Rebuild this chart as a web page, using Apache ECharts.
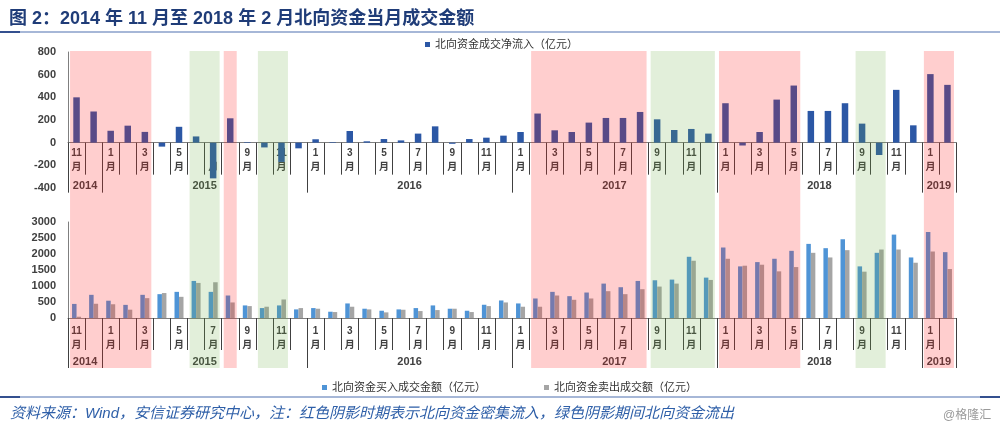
<!DOCTYPE html>
<html><head><meta charset="utf-8">
<script src="https://cdn.jsdelivr.net/npm/echarts@6/dist/echarts.min.js"></script>
<style>html,body{margin:0;padding:0;background:#fff}#c{width:1000px;height:429px}</style>
</head><body><div id="c"></div>
<script>
const months = ['2014-11','2014-12',
 '2015-01','2015-02','2015-03','2015-04','2015-05','2015-06','2015-07','2015-08','2015-09','2015-10','2015-11','2015-12',
 '2016-01','2016-02','2016-03','2016-04','2016-05','2016-06','2016-07','2016-08','2016-09','2016-10','2016-11','2016-12',
 '2017-01','2017-02','2017-03','2017-04','2017-05','2017-06','2017-07','2017-08','2017-09','2017-10','2017-11','2017-12',
 '2018-01','2018-02','2018-03','2018-04','2018-05','2018-06','2018-07','2018-08','2018-09','2018-10','2018-11','2018-12',
 '2019-01','2019-02'];
const netFlow = [400,275,105,150,95,-35,140,55,-315,215,5,-42,-170,-50,30,5,
 103,12,32,20,80,144,-10,32,44,62,94,257,109,94,177,218,218,271,206,
 112,121,80,348,-25,94,380,504,280,280,348,168,-109,466,153,605,510];
const buyAmt = [440,724,540,410,724,745,817,1158,817,703,393,310,393,269,310,196,
 455,290,227,269,310,393,290,227,414,548,455,610,817,682,796,1075,962,1158,1179,
 1200,1913,1262,2203,1613,1747,1851,2099,2316,2182,2461,1613,2037,2606,1892,2688,2058];
const sellAmt = [40,445,430,260,620,780,662,1096,1117,486,372,352,579,310,290,186,
 352,269,176,258,217,248,290,186,372,486,352,352,703,569,610,838,745,900,982,
 1075,1789,1189,1851,1634,1665,1458,1592,2037,1892,2120,1448,2140,2140,1727,2078,1530];
const years = ['2014','2015','2016','2017','2018','2019'];
const inflowPeriods = [['2014-11','2015-03'],['2015-08','2015-08'],['2017-02','2017-08'],['2018-01','2018-05'],['2019-01','2019-02']];
const outflowPeriods = [['2015-06','2015-07'],['2015-10','2015-11'],['2017-09','2017-12'],['2018-09','2018-10']];
const netName = '北向资金成交净流入（亿元）';
const buyName = '北向资金买入成交金额（亿元）';
const sellName = '北向资金卖出成交额（亿元）';

const N = months.length;
const yearStarts = [0];
months.forEach((m, i) => { if (i > 0 && m.slice(0, 4) !== months[i - 1].slice(0, 4)) yearStarts.push(i); });
yearStarts.push(N);
const yearCenters = years.map((y, k) => (yearStarts[k] + yearStarts[k + 1]) / 2);

const FF = '"Liberation Sans", Arial, "Noto Sans CJK SC", sans-serif';
const axisGray = '#7f7f7f';
const txt = '#404040';
const inset = 0.12;
const shadeData = [];
inflowPeriods.forEach(p => shadeData.push([months.indexOf(p[0]) + inset, months.indexOf(p[1]) + 1 - inset, 0]));
outflowPeriods.forEach(p => shadeData.push([months.indexOf(p[0]) + inset, months.indexOf(p[1]) + 1 - inset, 1]));

// top panel: zero line sits 400/1200 of the grid height above the grid bottom
const topH = 136;
const topMin = -400, topMax = 800;
const zeroOffset = -topH * (0 - topMin) / (topMax - topMin);

function monthAxis(g, offset, margin) {
  return {
    type: 'category', gridIndex: g, data: months, boundaryGap: true, position: 'bottom', offset: offset,
    axisLine: { onZero: false, lineStyle: { color: axisGray, width: 1 } },
    axisTick: { show: true, interval: 0, length: 32, lineStyle: { color: txt } },
    axisLabel: {
      interval: (i, v) => parseInt(v.slice(5), 10) % 2 === 1,
      formatter: v => parseInt(v.slice(5), 10) + '\n月',
      margin: margin, fontSize: 10, fontWeight: 'bold', color: txt, lineHeight: 14, fontFamily: FF
    }
  };
}
function yearAxis(g, offset) {
  return {
    type: 'value', gridIndex: g, min: 0, max: N, position: 'bottom', offset: offset,
    axisLine: { show: false, onZero: false },
    splitLine: { show: false },
    axisTick: { show: true, customValues: yearStarts, length: 50, lineStyle: { color: txt } },
    axisLabel: {
      customValues: yearCenters,
      formatter: v => { const k = yearCenters.indexOf(v); return k >= 0 ? years[k] : ''; },
      margin: 38, fontSize: 11, fontWeight: 'bold', color: txt, fontFamily: FF
    }
  };
}
function valAxis(g, mn, mx, iv) {
  return {
    type: 'value', gridIndex: g, min: mn, max: mx, interval: iv,
    axisLine: { show: true, lineStyle: { color: axisGray } },
    axisTick: { show: false }, splitLine: { show: false },
    axisLabel: { margin: 12, fontSize: 11, fontWeight: 'bold', color: txt, fontFamily: FF, formatter: v => String(v) }
  };
}

const chart = echarts.init(document.getElementById('c'), null, { renderer: 'canvas' });
chart.setOption({
  animation: false,
  backgroundColor: '#fff',
  title: [
    { text: '图 2：2014 年 11 月至 2018 年 2 月北向资金当月成交金额', left: 4, top: 5,
      textStyle: { fontSize: 18, fontWeight: 'bold', color: '#1f3c78', fontFamily: FF } },
    { text: '资料来源：Wind，安信证券研究中心，注：红色阴影时期表示北向资金密集流入，绿色阴影期间北向资金流出', left: 5, top: 401,
      textStyle: { fontSize: 15, fontStyle: 'italic', fontWeight: 'normal', color: '#2e5fa8', fontFamily: FF } },
    { text: '@格隆汇', left: 938, top: 405, textStyle: { fontSize: 12, fontWeight: 'normal', color: '#9a9a9a', fontFamily: FF } }
  ],
  legend: [
    { data: [netName], left: 420, top: 34, icon: 'rect', itemWidth: 5, itemHeight: 5, itemGap: 10,
      textStyle: { fontSize: 11, color: '#333', fontFamily: FF } },
    { data: [buyName, sellName], left: 317, top: 377, icon: 'rect', itemWidth: 5, itemHeight: 5, itemGap: 58,
      textStyle: { fontSize: 11, color: '#333', fontFamily: FF } }
  ],
  graphic: [
    { type: 'line', shape: { x1: 0, y1: 32, x2: 1000, y2: 32 }, style: { stroke: '#a6b7d7', lineWidth: 2 } },
    { type: 'line', shape: { x1: 0, y1: 32, x2: 20, y2: 32 }, style: { stroke: '#34508f', lineWidth: 2 } },
    { type: 'line', shape: { x1: 0, y1: 397, x2: 1000, y2: 397 }, style: { stroke: '#a6b7d7', lineWidth: 2 } },
    { type: 'line', shape: { x1: 0, y1: 397, x2: 20, y2: 397 }, style: { stroke: '#34508f', lineWidth: 2 } },
    { type: 'line', shape: { x1: 980, y1: 397, x2: 1000, y2: 397 }, style: { stroke: '#34508f', lineWidth: 2 } }
  ],
  grid: [
    { left: 68, right: 44, top: 52, height: topH },
    { left: 68, right: 44, top: 222, height: 96 },
    { left: 68, right: 44, top: 51, height: 317 }
  ],
  xAxis: [
    monthAxis(0, zeroOffset, 4),
    yearAxis(0, zeroOffset),
    monthAxis(1, 0, 6),
    yearAxis(1, 0),
    { type: 'value', gridIndex: 2, min: 0, max: N, show: false }
  ],
  yAxis: [
    valAxis(0, topMin, topMax, 200),
    valAxis(1, 0, 3000, 500),
    { type: 'value', gridIndex: 2, min: 0, max: 1, show: false }
  ],
  series: [
    { name: netName, type: 'bar', xAxisIndex: 0, yAxisIndex: 0, data: netFlow, barWidth: 6.5,
      itemStyle: { color: '#2b57a5' } },
    { name: buyName, type: 'bar', xAxisIndex: 2, yAxisIndex: 1, data: buyAmt, barWidth: 4.5, barGap: '0%',
      itemStyle: { color: '#4f94d6' } },
    { name: sellName, type: 'bar', xAxisIndex: 2, yAxisIndex: 1, data: sellAmt, barWidth: 4.5, barGap: '0%',
      itemStyle: { color: '#a5a5a5' } },
    { type: 'custom', xAxisIndex: 4, yAxisIndex: 2, z: 10, silent: true, data: shadeData,
      renderItem: (params, api) => {
        const p0 = api.coord([api.value(0), 1]);
        const p1 = api.coord([api.value(1), 0]);
        return { type: 'rect', shape: { x: p0[0], y: p0[1], width: p1[0] - p0[0], height: p1[1] - p0[1] },
          style: { fill: api.value(2) === 0 ? 'rgba(255,30,30,0.22)' : 'rgba(110,175,70,0.2)' } };
      } }
  ]
});
</script></body></html>
